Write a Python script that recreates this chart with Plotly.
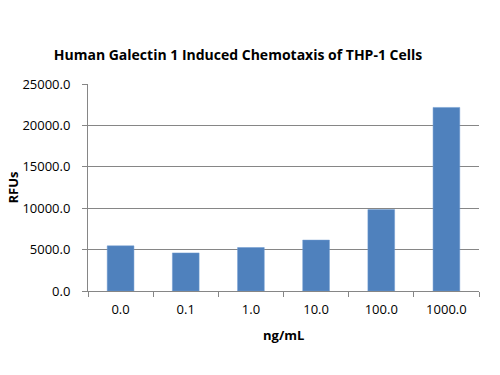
import plotly.graph_objects as go

categories = ["0.0", "0.1", "1.0", "10.0", "100.0", "1000.0"]
rfus = [5450, 4600, 5250, 6150, 9830, 22170]
y_ticks = [0, 5000, 10000, 15000, 20000, 25000]
y_tick_labels = ["0.0", "5000.0", "10000.0", "15000.0", "20000.0", "25000.0"]

font_family = "Open Sans, Lato, Liberation Sans, sans-serif"
grid_col = "#868686"

fig = go.Figure(go.Bar(
    x=categories, y=rfus,
    marker=dict(color="#4F81BD", line=dict(color="#6F9AD0", width=0.5)),
))

fig.update_layout(
    width=500, height=375,
    margin=dict(l=88, r=21, t=84, b=84, autoexpand=False),
    paper_bgcolor="white", plot_bgcolor="white",
    bargap=0.59,
    showlegend=False,
    font=dict(family=font_family, size=13, color="black"),
    title=dict(text="<b>Human Galectin 1 Induced Chemotaxis of THP-1 Cells</b>",
               x=0.476, xanchor="center", y=0.853, yanchor="middle",
               font=dict(size=14, family=font_family)),
    annotations=[
        dict(text="<b>ng/mL</b>", xref="paper", yref="paper", x=0.5, y=0,
             xanchor="center", yanchor="middle", yshift=-44, showarrow=False,
             font=dict(size=13)),
        dict(text="<b>RFUs</b>", xref="paper", yref="paper", x=0, y=0.5,
             xanchor="center", yanchor="middle", xshift=-76, textangle=-90,
             showarrow=False, font=dict(size=13)),
    ],
)
fig.update_xaxes(
    type="category", automargin=False,
    showline=True, linecolor=grid_col, linewidth=1,
    ticks="outside", ticklen=5, tickcolor=grid_col, tickson="boundaries",
    tickfont=dict(size=13),
    ticklabelstandoff=6,
    showgrid=False,
)
fig.update_yaxes(
    range=[0, 25000], automargin=False,
    tickvals=y_ticks, ticktext=y_tick_labels,
    showline=True, linecolor=grid_col, linewidth=1,
    ticks="outside", ticklen=5, tickcolor=grid_col,
    ticklabelstandoff=9,
    showgrid=True, gridcolor=grid_col, gridwidth=1,
    zeroline=False,
    tickfont=dict(size=13),
)

fig.write_html("out.html", config={"displayModeBar": False},
               post_script="document.body.style.margin='0';")
